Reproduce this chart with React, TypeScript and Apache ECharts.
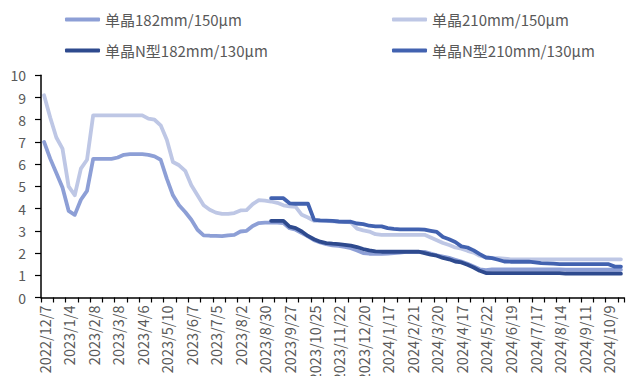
import React, { useEffect, useRef } from "react";
import * as echarts from "echarts";

const categories: string[] = [
  "2022/12/7", "2022/12/14", "2022/12/21", "2022/12/28",
  "2023/1/4", "2023/1/11", "2023/1/18", "2023/2/1",
  "2023/2/8", "2023/2/15", "2023/2/22", "2023/3/1",
  "2023/3/8", "2023/3/15", "2023/3/22", "2023/3/29",
  "2023/4/6", "2023/4/12", "2023/4/19", "2023/4/26",
  "2023/5/10", "2023/5/17", "2023/5/24", "2023/5/31",
  "2023/6/7", "2023/6/14", "2023/6/21", "2023/6/28",
  "2023/7/5", "2023/7/12", "2023/7/19", "2023/7/26",
  "2023/8/2", "2023/8/9", "2023/8/16", "2023/8/23",
  "2023/8/30", "2023/9/6", "2023/9/13", "2023/9/20",
  "2023/9/27", "2023/10/4", "2023/10/11", "2023/10/18",
  "2023/10/25", "2023/11/1", "2023/11/8", "2023/11/15",
  "2023/11/22", "2023/11/29", "2023/12/6", "2023/12/13",
  "2023/12/20", "2023/12/27", "2024/1/3", "2024/1/10",
  "2024/1/17", "2024/1/24", "2024/1/31", "2024/2/7",
  "2024/2/21", "2024/2/28", "2024/3/6", "2024/3/13",
  "2024/3/20", "2024/3/27", "2024/4/3", "2024/4/10",
  "2024/4/17", "2024/4/24", "2024/5/8", "2024/5/15",
  "2024/5/22", "2024/5/29", "2024/6/5", "2024/6/12",
  "2024/6/19", "2024/6/26", "2024/7/3", "2024/7/10",
  "2024/7/17", "2024/7/24", "2024/7/31", "2024/8/7",
  "2024/8/14", "2024/8/21", "2024/8/28", "2024/9/4",
  "2024/9/11", "2024/9/18", "2024/9/25", "2024/9/30",
  "2024/10/9", "2024/10/16", "2024/10/23",
];

const seriesNames: string[] = [
  "单晶182mm/150μm",
  "单晶210mm/150μm",
  "单晶N型182mm/130μm",
  "单晶N型210mm/130μm",
];

const mono182_150: (number | null)[] = [
  7.0, 6.25, 5.6, 4.95, 3.9, 3.72, 4.4, 4.8,
  6.24, 6.24, 6.24, 6.24, 6.3, 6.42, 6.45, 6.45,
  6.45, 6.42, 6.35, 6.2, 5.35, 4.6, 4.15, 3.85,
  3.5, 3.05, 2.8, 2.78, 2.77, 2.76, 2.8, 2.82,
  2.97, 3.0, 3.22, 3.35, 3.37, 3.37, 3.37, 3.35,
  3.12, 3.05, 2.9, 2.75, 2.58, 2.48, 2.4, 2.35,
  2.32, 2.28, 2.22, 2.12, 2.0, 1.97, 1.96, 1.96,
  1.98, 2.0, 2.02, 2.05, 2.05, 2.05, 2.05, 1.98,
  1.9, 1.84, 1.78, 1.7, 1.62, 1.52, 1.4, 1.27,
  1.23, 1.27, 1.27, 1.27, 1.27, 1.27, 1.27, 1.27,
  1.27, 1.27, 1.27, 1.27, 1.27, 1.25, 1.25, 1.25,
  1.25, 1.25, 1.25, 1.25, 1.25, 1.25, 1.25,
];

const mono210_150: (number | null)[] = [
  9.1, 8.1, 7.2, 6.7, 5.0, 4.6, 5.8, 6.2,
  8.2, 8.2, 8.2, 8.2, 8.2, 8.2, 8.2, 8.2,
  8.2, 8.05, 8.0, 7.75, 7.1, 6.1, 5.95, 5.7,
  5.05, 4.6, 4.15, 3.95, 3.82, 3.76, 3.76, 3.8,
  3.92, 3.93, 4.2, 4.38, 4.36, 4.32, 4.26, 4.15,
  4.1, 4.08, 3.72, 3.6, 3.45, 3.45, 3.45, 3.43,
  3.41, 3.4, 3.38, 3.1, 3.02, 2.97, 2.85, 2.82,
  2.82, 2.82, 2.82, 2.82, 2.82, 2.82, 2.82, 2.7,
  2.58, 2.45, 2.36, 2.25, 2.2, 2.1, 2.02, 1.88,
  1.8, 1.78, 1.77, 1.75, 1.72, 1.72, 1.72, 1.72,
  1.72, 1.72, 1.72, 1.72, 1.72, 1.72, 1.72, 1.72,
  1.72, 1.72, 1.72, 1.72, 1.72, 1.72, 1.72,
];

const monoN182_130: (number | null)[] = [
  null, null, null, null, null, null, null, null,
  null, null, null, null, null, null, null, null,
  null, null, null, null, null, null, null, null,
  null, null, null, null, null, null, null, null,
  null, null, null, null, null, 3.45, 3.45, 3.45,
  3.19, 3.12, 2.97, 2.77, 2.62, 2.51, 2.45, 2.42,
  2.4, 2.37, 2.33, 2.27, 2.18, 2.12, 2.08, 2.06,
  2.06, 2.06, 2.06, 2.06, 2.06, 2.06, 2.0, 1.93,
  1.88, 1.78, 1.72, 1.62, 1.58, 1.47, 1.35, 1.2,
  1.1, 1.1, 1.1, 1.1, 1.1, 1.1, 1.1, 1.1,
  1.1, 1.1, 1.1, 1.1, 1.1, 1.07, 1.07, 1.07,
  1.07, 1.07, 1.07, 1.07, 1.07, 1.07, 1.07,
];

const monoN210_130: (number | null)[] = [
  null, null, null, null, null, null, null, null,
  null, null, null, null, null, null, null, null,
  null, null, null, null, null, null, null, null,
  null, null, null, null, null, null, null, null,
  null, null, null, null, null, 4.47, 4.47, 4.47,
  4.24, 4.22, 4.22, 4.22, 3.49, 3.47, 3.46, 3.45,
  3.42, 3.41, 3.41, 3.33, 3.3, 3.23, 3.2, 3.2,
  3.12, 3.09, 3.07, 3.07, 3.07, 3.07, 3.05, 3.0,
  2.95, 2.72, 2.62, 2.5, 2.3, 2.25, 2.12, 1.95,
  1.8, 1.77, 1.7, 1.62, 1.61, 1.61, 1.61, 1.61,
  1.58, 1.55, 1.54, 1.52, 1.5, 1.5, 1.5, 1.5,
  1.5, 1.5, 1.5, 1.5, 1.5, 1.39, 1.39,
];

const yTicks: number[] = [0, 1, 2, 3, 4, 5, 6, 7, 8, 9, 10];

const colors = ["#8D9FD6", "#BEC7E5", "#2E4A8E", "#4262B0"];

export default function App() {
  const ref = useRef<HTMLDivElement>(null);

  useEffect(() => {
    if (!ref.current) return;
    const chart = echarts.init(ref.current, null, { renderer: "svg" });
    const font = "'Noto Sans CJK SC', 'Noto Sans', sans-serif";
    const legendBase = {
      icon: "roundRect",
      itemWidth: 35,
      itemHeight: 4,
      itemGap: 0,
      padding: 0,
      textStyle: { color: "#595959", fontSize: 15, fontFamily: font },
    };
    const seriesData = [mono182_150, mono210_150, monoN182_130, monoN210_130];
    chart.setOption({
      animation: false,
      color: colors,
      legend: [
        { ...legendBase, data: [seriesNames[0]], left: 65, top: 12 },
        { ...legendBase, data: [seriesNames[1]], left: 392, top: 12 },
        { ...legendBase, data: [seriesNames[2]], left: 65, top: 43 },
        { ...legendBase, data: [seriesNames[3]], left: 392, top: 43 },
      ],
      grid: {
        left: 41,
        right: 2,
        top: 75.3,
        bottom: 78.5,
        containLabel: false,
        outerBoundsMode: "none",
      },
      xAxis: {
        type: "category",
        data: categories,
        boundaryGap: true,
        axisLine: { show: true, lineStyle: { color: "#000", width: 1.5 } },
        axisTick: { show: true, interval: 1, length: 5, lineStyle: { color: "#000", width: 1.2 } },
        axisLabel: {
          interval: 3,
          rotate: 90,
          margin: 8,
          color: "#595959",
          fontSize: 14.5,
          fontFamily: font,
          hideOverlap: false,
        },
        splitLine: { show: false },
      },
      yAxis: {
        type: "value",
        min: yTicks[0],
        max: yTicks[yTicks.length - 1],
        interval: 1,
        axisLine: { show: true, lineStyle: { color: "#000", width: 1.5 } },
        axisTick: { show: true, length: 6, lineStyle: { color: "#000", width: 1.2 } },
        axisLabel: { color: "#595959", fontSize: 14, margin: 15, fontFamily: font },
        splitLine: { show: false },
      },
      series: seriesNames.map((name, i) => ({
        name,
        type: "line",
        data: seriesData[i],
        showSymbol: false,
        symbol: "none",
        connectNulls: false,
        lineStyle: { width: 3.8, color: colors[i], cap: "round", join: "round" },
        itemStyle: { color: colors[i] },
        z: 2 + i,
      })),
    });
    return () => chart.dispose();
  }, []);

  return (
    <div
      ref={ref}
      style={{ position: "fixed", left: 0, top: 0, width: 626, height: 376, background: "#fff" }}
    />
  );
}
